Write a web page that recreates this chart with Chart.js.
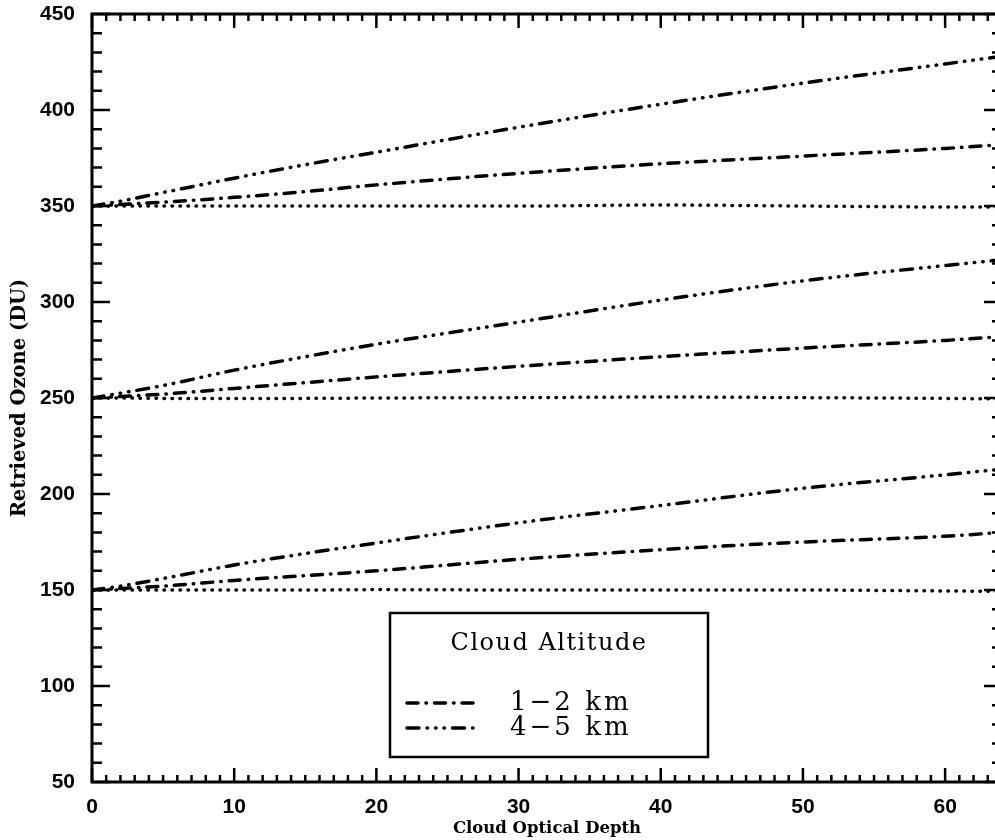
<!DOCTYPE html>
<html>
<head>
<meta charset="utf-8">
<script src="https://cdn.jsdelivr.net/npm/chart.js@4/dist/chart.umd.min.js"></script>
<style>
  html, body { margin: 0; padding: 0; background: #fff; overflow: hidden; }
  #wrap { width: 1010px; height: 840px; }
</style>
</head>
<body>
<div id="wrap"><canvas id="myChart" width="1010" height="840"></canvas></div>
<script>
// Cloud optical depth samples (x)
const depth = [0, 2, 5, 10, 15, 20, 30, 40, 50, 60, 64];

// Retrieved ozone for true column 350 DU
const ozone350Clear = [350, 350, 350, 350, 350, 350, 350, 350.5, 350, 349.5, 349.5];
const ozone350Low   = [350, 350.8, 352, 354.5, 357.5, 361, 367, 372, 376, 380, 382];
const ozone350High  = [350, 352.5, 357, 364.5, 371.5, 378, 391, 403, 414, 424, 428];

// true column 250 DU
const ozone250Clear = [250, 250, 249.8, 249.7, 249.8, 250, 250.2, 250.5, 250.2, 249.8, 249.5];
const ozone250Low   = [250, 250.8, 252, 255, 258, 261, 266.5, 271.5, 276, 280, 282];
const ozone250High  = [250, 252.5, 256.5, 264.5, 271.5, 278, 289.5, 301, 311, 319, 322];

// true column 150 DU
const ozone150Clear = [150, 150, 150, 150, 150, 150.2, 150, 150, 150, 149.5, 149.3];
const ozone150Low   = [150, 150.8, 152, 155, 157.5, 160, 166, 171, 175, 178, 180];
const ozone150High  = [150, 152, 156, 163, 169, 174.5, 185, 194, 203, 210, 213];

const legendTitle = 'Cloud Altitude';
const legendLabels = ['1\u22122 km', '4\u22125 km'];

// Line styles
const dotDash = [0.5, 7.5];
const lowDash = [11, 8, 0.5, 8];                       // dash-dot
const highDash = [12, 8, 0.5, 8, 0.5, 8, 0.5, 8];      // dash-dot-dot-dot

function makeSet(values, dash) {
  return {
    data: depth.map((d, i) => ({ x: d, y: values[i] })),
    borderColor: '#000',
    borderWidth: 3.5,
    borderDash: dash,
    borderCapStyle: 'round',
    pointRadius: 0,
    fill: false,
    cubicInterpolationMode: 'monotone'
  };
}

const datasets = [
  makeSet(ozone350Clear, dotDash), makeSet(ozone350Low, lowDash), makeSet(ozone350High, highDash),
  makeSet(ozone250Clear, dotDash), makeSet(ozone250Low, lowDash), makeSet(ozone250High, highDash),
  makeSet(ozone150Clear, dotDash), makeSet(ozone150Low, lowDash), makeSet(ozone150High, highDash)
];

// Frame, inward ticks on all four sides, and the boxed legend
const framePlugin = {
  id: 'frame',
  afterDraw(chart) {
    const { ctx, chartArea: a, scales } = chart;
    const xs = scales.x, ys = scales.y;
    ctx.save();
    ctx.strokeStyle = '#000';
    ctx.lineCap = 'butt';

    // ticks
    ctx.lineWidth = 2.5;
    ctx.beginPath();
    for (let v = 0; v <= 64; v++) {
      const px = xs.getPixelForValue(v);
      const len = v % 10 === 0 ? 14 : 7;
      ctx.moveTo(px, a.bottom); ctx.lineTo(px, a.bottom - len);
      ctx.moveTo(px, a.top); ctx.lineTo(px, a.top + len);
    }
    for (let v = 50; v <= 450; v += 10) {
      const py = ys.getPixelForValue(v);
      const len = v % 50 === 0 ? 18 : 10;
      ctx.moveTo(a.left, py); ctx.lineTo(a.left + len, py);
      ctx.moveTo(a.right, py); ctx.lineTo(a.right - len, py);
    }
    ctx.stroke();

    // frame
    ctx.lineWidth = 3;
    ctx.strokeRect(a.left, a.top, a.right - a.left, a.bottom - a.top);

    // legend box
    const bx = 390, by = 613, bw = 318, bh = 144;
    ctx.fillStyle = '#fff';
    ctx.fillRect(bx, by, bw, bh);
    ctx.lineWidth = 2.5;
    ctx.strokeRect(bx, by, bw, bh);

    ctx.fillStyle = '#000';
    ctx.textBaseline = 'middle';
    if ('letterSpacing' in ctx) ctx.letterSpacing = '1.5px';
    ctx.font = '24px "DejaVu Serif"';
    ctx.textAlign = 'center';
    ctx.fillText(legendTitle, bx + bw / 2, 644);

    const rows = [703, 728];
    const dashes = [lowDash, highDash];
    ctx.textAlign = 'left';
    ctx.font = '26px "DejaVu Serif"';
    if ('letterSpacing' in ctx) ctx.letterSpacing = '3px';
    rows.forEach((y, i) => {
      ctx.save();
      ctx.lineWidth = 3.5;
      ctx.lineCap = 'round';
      ctx.setLineDash(dashes[i]);
      ctx.beginPath();
      ctx.moveTo(407, y);
      ctx.lineTo(475, y);
      ctx.stroke();
      ctx.restore();
      ctx.fillText(legendLabels[i], 510, y);
    });
    ctx.restore();
  }
};

const ctx = document.getElementById('myChart').getContext('2d');
new Chart(ctx, {
  type: 'line',
  data: { datasets: datasets },
  options: {
    responsive: false,
    animation: false,
    layout: { padding: { top: 14, right: 8, left: 0, bottom: 0 } },
    plugins: {
      legend: { display: false },
      tooltip: { enabled: false }
    },
    scales: {
      x: {
        type: 'linear',
        min: 0,
        max: 64,
        grid: { display: false },
        border: { display: false },
        afterFit(scale) { scale.height = 58; },
        afterBuildTicks(scale) {
          scale.ticks = scale.ticks.filter(t => t.value % 10 === 0);
        },
        ticks: {
          stepSize: 10,
          padding: 5,
          color: '#000',
          maxRotation: 0,
          font: { family: '"Liberation Sans", Arial', size: 21, weight: 'bold' }
        },
        title: {
          display: true,
          text: 'Cloud Optical Depth',
          color: '#000',
          padding: { top: 0, bottom: 1 },
          font: { family: '"DejaVu Serif"', size: 16.5, weight: 'bold' }
        }
      },
      y: {
        type: 'linear',
        min: 50,
        max: 450,
        grid: { display: false },
        border: { display: false },
        afterFit(scale) {
          scale.width = 92;
          scale.paddingTop = 0;
          scale.paddingBottom = 0;
        },
        ticks: {
          stepSize: 50,
          padding: 9,
          color: '#000',
          font: { family: '"Liberation Sans", Arial', size: 21, weight: 'bold' }
        },
        title: {
          display: true,
          text: 'Retrieved Ozone (DU)',
          color: '#000',
          padding: { top: 8, bottom: 0 },
          font: { family: '"DejaVu Serif"', size: 19.5, weight: 'bold' }
        }
      }
    }
  },
  plugins: [framePlugin]
});
</script>
</body>
</html>
